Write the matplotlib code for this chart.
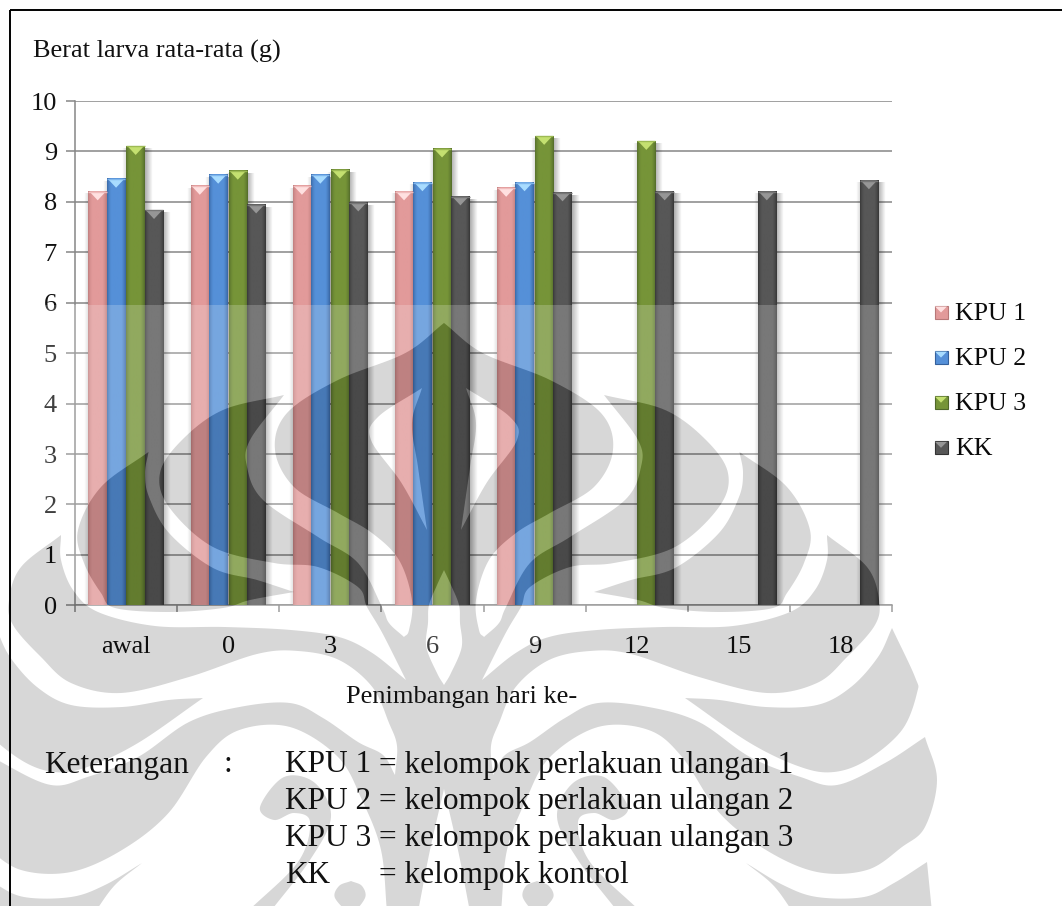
import numpy as np
import matplotlib
matplotlib.use("Agg")
import matplotlib.pyplot as plt
from matplotlib.colors import to_rgb
from matplotlib.path import Path
from matplotlib.patches import PathPatch, Polygon

W, H = 1062, 906

categories = ["awal", "0", "3", "6", "9", "12", "15", "18"]
kpu1 = [8.2, 8.31, 8.31, 8.2, 8.27]
kpu2 = [8.45, 8.53, 8.53, 8.38, 8.38]
kpu3 = [9.1, 8.61, 8.63, 9.05, 9.3, 9.2]
kk = [7.83, 7.94, 7.98, 8.1, 8.18, 8.2, 8.2, 8.42]
series_names = ["KPU 1", "KPU 2", "KPU 3", "KK"]
notes = [("KPU 1", "= kelompok perlakuan ulangan 1"),
         ("KPU 2", "= kelompok perlakuan ulangan 2"),
         ("KPU 3", "= kelompok perlakuan ulangan 3"),
         ("KK", "= kelompok kontrol")]

# body, bright bevel and dark edge for each series
palette = {
    "KPU 1": ("#e29a9a", "#ffe0e0", "#b87878"),
    "KPU 2": ("#5590d8", "#a8dcff", "#35619c"),
    "KPU 3": ("#769438", "#c4e070", "#50682a"),
    "KK": ("#575757", "#969696", "#333333"),
}

plt.rcParams["font.family"] = ["Liberation Serif", "DejaVu Serif"]
GRID = "#868686"
INK = "#111111"

fig = plt.figure(figsize=(W / 100, H / 100), dpi=100, facecolor="white")
ax = fig.add_axes([75 / W, 1 - 605.3 / H, (892 - 75) / W, (605.3 - 101) / H])
ax.set_xlim(-0.5, 7.5)
ax.set_ylim(0, 10)
ax.set_axisbelow(True)
ax.yaxis.grid(True, color=GRID, lw=1.1)
ax.xaxis.grid(False)
for side in ("top", "right"):
    ax.spines[side].set_visible(False)
for side in ("left", "bottom"):
    ax.spines[side].set_color(GRID)
    ax.spines[side].set_linewidth(1.1)
ax.set_yticks(range(11))
ax.set_xticks(np.arange(-0.5, 8, 1))
ax.set_xticklabels([])
ax.set_xticks(range(8), minor=True)
ax.set_xticklabels(categories, minor=True)
ax.tick_params(axis="y", length=6.5, width=1.1, color=GRID, pad=6.5, labelsize=19, labelcolor=INK)
ax.tick_params(axis="x", which="major", length=5, width=1.1, color=GRID)
ax.tick_params(axis="x", which="minor", length=0, pad=22, labelsize=19, labelcolor=INK)

BAR_W = 0.18


def draw_bar(x, value, name):
    body, bright, edge = (np.array(to_rgb(c)) for c in palette[name])
    left = x - BAR_W / 2
    right = x + BAR_W / 2

    # soft shadow either side of the column
    fade = np.zeros((1, 12, 4))
    fade[0, :, 3] = np.linspace(0.32, 0, 12)
    ax.imshow(fade, extent=(right, right + 0.075, 0, value - 0.05), aspect="auto",
              zorder=2, interpolation="bilinear")
    ax.imshow(fade[:, ::-1], extent=(left - 0.04, left, 0, value - 0.05), aspect="auto",
              zorder=2, interpolation="bilinear", alpha=0.5)

    # horizontal shading of the column front
    t = np.array([0.0, 0.1, 0.22, 0.5, 0.78, 0.9, 1.0])
    mix = np.array([0.75, 0.25, 0.0, 0.0, 0.0, 0.35, 0.85])
    row = (1 - mix[:, None]) * body + mix[:, None] * edge
    samples = np.linspace(0, 1, 24)
    grad = np.stack([np.interp(samples, t, row[:, i]) for i in range(3)], axis=-1)
    ax.imshow(grad[None, :, :], extent=(left, right, 0, value), aspect="auto",
              zorder=3, interpolation="bilinear")

    # bevel on the column top
    cap = 0.17
    ax.add_patch(Polygon([(left + 0.012, value), (right - 0.012, value), (x, value - cap)],
                         closed=True, fc=bright, ec="none", zorder=4))
    ax.plot([left, right], [value, value], color=0.5 * bright + 0.5 * body, lw=1, zorder=4,
            solid_capstyle="butt")


for k, (name, vals) in enumerate(zip(series_names, [kpu1, kpu2, kpu3, kk])):
    for i, v in enumerate(vals):
        draw_bar(i - 0.008 + (k - 1.5) * BAR_W + (0.012 if k >= 2 else 0), v, name)
ax.set_xlim(-0.5, 7.5)
ax.set_ylim(0, 10)

# pixel-space layers for the page stamp and the page text
stamp = fig.add_axes([0, 0, 1, 1], zorder=5)
stamp.set_xlim(0, W)
stamp.set_ylim(H, 0)
stamp.axis("off")
stamp.patch.set_alpha(0)

AXIS_X = 444.0


def spline(points, n=14):
    """Catmull-Rom curve through an open run of anchor points."""
    p = np.array(points, float)
    p = np.vstack([2 * p[0] - p[1], p, 2 * p[-1] - p[-2]])
    out = []
    for i in range(1, len(p) - 2):
        s = np.linspace(0, 1, n, endpoint=False)[:, None]
        a, b, c, d = p[i - 1], p[i], p[i + 1], p[i + 2]
        out.append(0.5 * (2 * b + (c - a) * s + (2 * a - 5 * b + 4 * c - d) * s ** 2
                          + (3 * b - a - 3 * c + d) * s ** 3))
    out.append(p[-2][None, :])
    return np.vstack(out)


def outline(*runs):
    return np.vstack([spline(r) if len(r) > 2 else np.array(r, float) for r in runs])


def reflect(poly):
    out = np.array(poly, float).copy()
    out[:, 0] = 2 * AXIS_X - out[:, 0]
    return out


def oriented(poly, clockwise):
    x, y = poly[:, 0], poly[:, 1]
    area = 0.5 * np.sum(x * np.roll(y, -1) - np.roll(x, -1) * y)
    return poly if (area > 0) == clockwise else poly[::-1]


# right half of the connected stamp body, from the apex down to the foot
body_half = outline(
    [(444, 323), (482.6, 353), (550, 380), (601, 413), (613, 450), (594, 487), (550, 513), (516, 533),
     (489, 560), (476, 600), (479, 630), (484, 637)],
    [(484, 637), (499, 623), (506, 607), (530, 563), (570, 537), (625, 500), (641, 467), (638, 440), (604, 395)],
    [(604, 395), (665, 410), (706, 440), (728, 473), (719, 507), (675, 547), (614, 563), (570, 567),
     (530, 587), (521, 607), (505.7, 633), (482, 680)],
    [(482, 680), (515.7, 653), (549, 637), (597, 630), (663, 627), (733, 626), (790, 612), (815, 590),
     (827, 560), (827, 535)],
    [(827, 535), (867, 567), (879, 600), (875, 625), (847, 657), (817, 683), (767, 693), (699, 677),
     (631, 654), (590, 651), (549, 660), (515.7, 687), (499, 723), (491, 746), (493, 775)],
    [(493, 775), (505, 755), (530, 742), (565, 718), (598, 703), (648.6, 707), (699, 722), (750, 757),
     (800.6, 777), (837, 785), (885, 763), (925, 737)],
    [(925, 737), (937, 780), (925, 827), (902, 847), (867, 870), (817, 872), (766, 850), (719.5, 813),
     (682, 757), (648.6, 730), (598, 727), (550, 757), (526, 800), (507, 850), (501, 912)],
    [(501, 912), (470, 912)],
    [(470, 912), (458, 850), (444, 789)],
)
body = np.vstack([body_half, reflect(body_half)[::-1][1:-1]])

# separate pieces on the right; each one is reflected to the left
lobes = [
    outline([(739.5, 452), (787, 487), (810, 530), (804, 563), (787, 593), (773, 608), (719, 612), (665, 608),
             (638, 600), (594, 592)],
            [(594, 592), (631, 580), (675, 568), (719, 533), (739, 497), (743, 473), (739.5, 452)]),
    outline([(892, 628), (915, 677), (917, 693), (902, 730), (867, 760), (834, 772), (800.6, 767), (750, 743),
             (685, 698)],
            [(685, 698), (719.5, 700), (766, 707), (817, 705), (851, 687), (878, 657), (892, 628)]),
    outline([(746, 863), (783, 885), (817, 897), (864, 897), (894, 883), (927, 862)],
            [(927, 862), (932, 912)],
            [(932, 912), (793, 912)],
            [(793, 912), (773, 885), (746, 863)]),
    outline([(618, 912), (578, 860), (557, 817), (573, 783), (604, 777), (628, 807), (614, 820),
             (594, 813), (578, 822), (590, 862), (641, 912)]),
    outline([(537, 881), (549, 886), (553, 898), (537, 912), (523, 898), (526, 886), (537, 881)]),
]

# openings inside the body
crescent = outline(
    [(466, 388), (510, 417), (517, 440), (486.5, 483), (461, 530)],
    [(461, 530), (470, 467), (476, 423), (466, 388)],
)
flame_half = outline(
    [(444, 570), (451, 585), (459, 605), (460, 623), (461.7, 647), (451, 673), (444, 685)],
)
flame = np.vstack([flame_half, reflect(flame_half)[::-1][1:-1]])

solid = [oriented(body, True)]
for lobe in lobes:
    solid.append(oriented(lobe, True))
    solid.append(oriented(reflect(lobe), True))
holes = [oriented(crescent, False), oriented(reflect(crescent), False), oriented(flame, False)]


def compound(polys):
    verts, codes = [], []
    for p in polys:
        verts.extend(p.tolist() + [p[0].tolist()])
        codes.extend([Path.MOVETO] + [Path.LINETO] * (len(p) - 1) + [Path.CLOSEPOLY])
    return Path(verts, codes)


page = oriented(np.array([[0, 305], [W, 305], [W, H + 10], [0, H + 10]], float), False)
stamp.add_patch(PathPatch(compound([page] + solid + holes), fc="white", ec="none", alpha=0.2, zorder=1))
stamp.add_patch(PathPatch(compound(solid + holes), fc="black", ec="none", alpha=0.155, zorder=2))

# page frame and the text that sits above the stamp
stamp.plot([10, 10], [10, H], color="black", lw=1.4, zorder=5, solid_capstyle="butt")
stamp.plot([9.5, W], [10, 10], color="black", lw=1.4, zorder=5, solid_capstyle="butt")

stamp.text(33, 51, "Berat larva rata-rata (g)", fontsize=19, va="center", ha="left", zorder=6, color=INK)
stamp.text(462, 697, "Penimbangan hari ke-", fontsize=19, va="center", ha="center", zorder=6, color=INK)

for i, name in enumerate(series_names):
    y = 312.5 + i * 45.1
    body_c, bright, edge = palette[name]
    stamp.add_patch(plt.Rectangle((934.5, y - 6.5), 13, 13, fc=body_c, ec=edge, lw=0.8, zorder=6))
    stamp.add_patch(Polygon([(935, y - 6), (947, y - 6), (941, y)], closed=True, fc=bright, ec="none", zorder=7))
    stamp.text(955, y + 1, name, fontsize=18.6, va="center", ha="left", zorder=6, color="#0a0a0a")

NOTE_SIZE = 22.6
stamp.text(44, 765, "Keterangan", fontsize=NOTE_SIZE, va="center", ha="left", zorder=6, color=INK)
stamp.text(224, 765, ":", fontsize=NOTE_SIZE, va="center", ha="left", zorder=6, color=INK)
for i, (code, meaning) in enumerate(notes):
    y = 765 + i * 36.9
    stamp.text(285, y, code, fontsize=NOTE_SIZE, va="center", ha="left", zorder=6, color=INK)
    stamp.text(379, y, meaning, fontsize=NOTE_SIZE, va="center", ha="left", zorder=6, color=INK)

fig.savefig("out.png", dpi=100)
